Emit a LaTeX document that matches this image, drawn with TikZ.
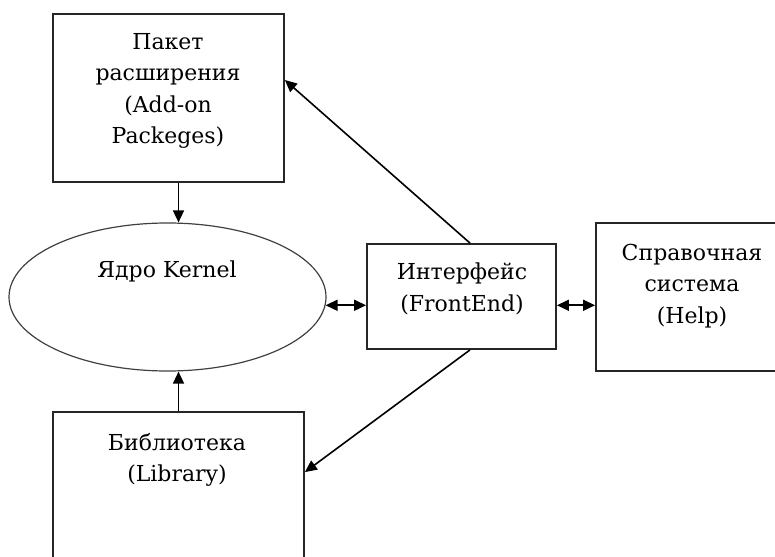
\documentclass[tikz,border=0pt]{standalone}
\usepackage{fontspec}
\setmainfont{DejaVu Serif}
\usetikzlibrary{arrows.meta,calc,shapes.geometric}
\begin{document}
\begin{tikzpicture}[x=1pt,y=-1pt,
  box/.style={draw=black!85,line width=1.8pt,rectangle,inner sep=0pt},
  txt/.style={align=center,inner sep=0pt,font=\fontsize{22}{31.5}\selectfont},
  conn/.style={line width=1.6pt,-{Triangle[length=12pt,width=11pt]}},
  dconn/.style={line width=1.6pt,{Triangle[length=12pt,width=11pt]}-{Triangle[length=12pt,width=11pt]}}]
\useasboundingbox (0,0) rectangle (775,556);
\clip (0,0) rectangle (775,556);
% shapes
\node[box,minimum width=231pt,minimum height=168pt] (pak) at (168.5,98) {};
\node[draw=black!75,line width=1.2pt,ellipse,minimum width=317pt,minimum height=148pt,inner sep=0pt] (ker) at (167.5,297) {};
\node[box,minimum width=189pt,minimum height=105pt] (fe) at (461.5,296.5) {};
\node[box,minimum width=194pt,minimum height=148pt] (help) at (693,297) {};
\node[box,minimum width=251pt,minimum height=180pt] (lib) at (178.5,502) {};
% texts
\node[txt] (tpak) at (168,91) {Пакет\\расширения\\(Add-on\\Packeges)};
\node[txt] (tker) at (167,271) {Ядро Kernel};
\node[txt] (tfe) at (462,289) {Интерфейс\\(FrontEnd)};
\node[txt] (thelp) at (692,286) {Справочная\\система\\(Help)};
\node[txt] (tlib) at (177,460) {Библиотека\\(Library)};
% connectors
\draw[conn] (pak.south -| lib.north) -- (lib.north |- ker.north);
\draw[conn] (lib.north) -- (lib.north |- ker.south);
\draw[dconn] (ker.-3.6) -- (ker.-3.6 -| fe.west);
\draw[dconn] (ker.-3.6 -| fe.east) -- (ker.-3.6 -| help.west);
\draw[conn] ($(fe.north)+(8.5,0)$) -- ($(pak.east)+(0,-18)$);
\draw[conn] ($(fe.south)+(8.5,0)$) -- ($(lib.north east)+(0,61)$);
\end{tikzpicture}
\end{document}
